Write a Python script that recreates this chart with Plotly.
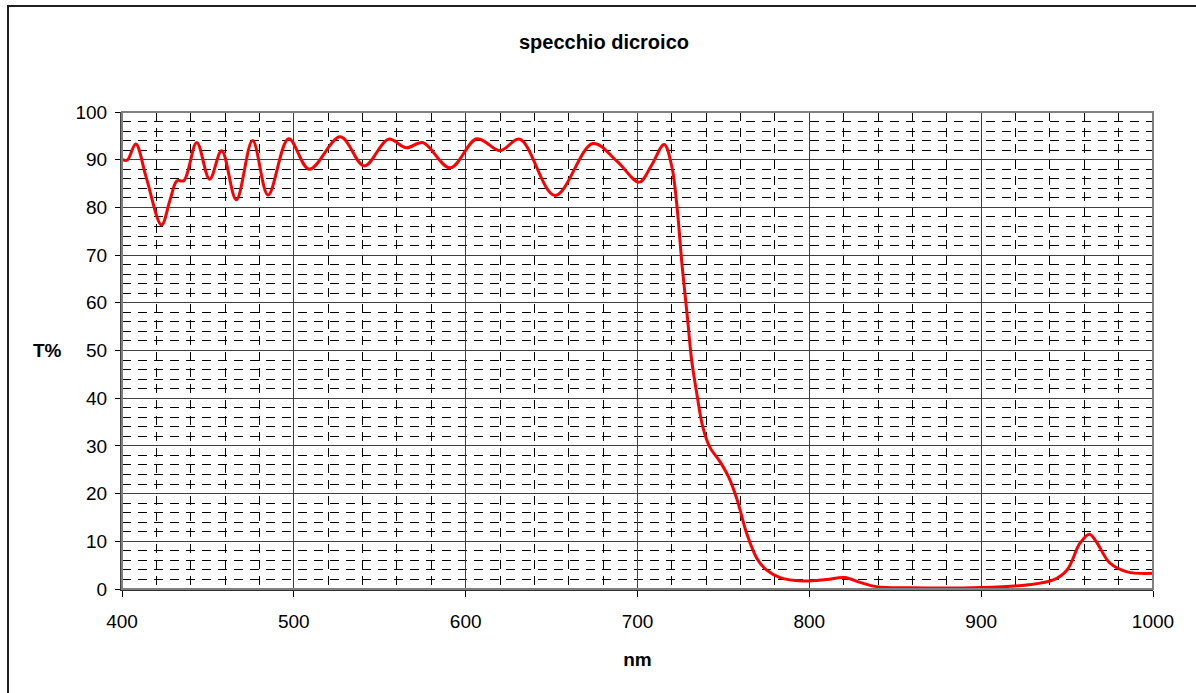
import plotly.graph_objects as go

# Wavelength (nm) and transmittance (%)
nm = [400, 403, 408, 414, 423, 428, 432, 436, 443.5, 451, 458, 466.5, 476, 485,
      497, 509, 527, 541, 555, 565.5, 575, 591, 606.5, 620, 631.5, 652, 674, 688,
      701, 708, 715.5, 720, 723, 726, 729, 731.5, 734.5, 738, 742, 748, 753, 758,
      763.5, 769.5, 775, 783, 796, 810, 820.5, 829.5, 839, 858.5, 900, 926.5, 942,
      950, 957.5, 963, 967, 975, 985, 1000]
T = [90.1, 89.9, 93.3, 86.4, 76.3, 81.6, 85.6, 85.6, 93.6, 85.9, 91.9, 81.6, 94.0, 82.6,
     94.4, 88.0, 94.8, 88.7, 94.3, 92.5, 93.6, 88.3, 94.4, 91.9, 94.3, 82.5, 93.4, 89.7,
     85.3, 88.7, 93.2, 88.5, 80.1, 67.6, 57.1, 48.0, 41.0, 34.0, 29.8, 26.7, 23.5, 18.7,
     11.7, 6.4, 4.0, 2.4, 1.7, 2.0, 2.4, 1.4, 0.5, 0.25, 0.3, 0.85, 1.9,
     4.0, 9.6, 11.5, 9.9, 5.4, 3.6, 3.3]

title_text = "specchio dicroico"
x_title = "nm"
y_title = "T%"

FONT = "Liberation Sans, Arial, sans-serif"

fig = go.Figure()
fig.add_trace(go.Scatter(
    x=nm, y=T, mode="lines",
    line=dict(color="#FF0000", width=3, shape="spline", smoothing=1.0),
    showlegend=False, hoverinfo="x+y",
))

W, H = 1196, 693
L, R, TOP, B = 122, 43, 112, 104

fig.update_layout(
    width=W, height=H,
    margin=dict(l=L, r=R, t=TOP, b=B),
    paper_bgcolor="white", plot_bgcolor="white",
    font=dict(family=FONT, color="black", size=19),
    title=dict(text="<b>" + title_text + "</b>", x=0.505, xref="container",
               y=1 - 42 / H, yanchor="middle", xanchor="center",
               font=dict(family=FONT, size=20, color="black")),
)

fig.update_xaxes(
    range=[400, 1000], tick0=400, dtick=100,
    showgrid=True, gridcolor="#404040", gridwidth=1,
    minor=dict(dtick=20, showgrid=True, gridcolor="#000000", gridwidth=1, griddash="9px,7px"),
    showline=True, linecolor="#303030", linewidth=2,
    ticks="outside", ticklen=6, tickcolor="#000000", tickwidth=1,
    ticklabelstandoff=8,
    tickfont=dict(family=FONT, size=19, color="black"),
    title=dict(text="<b>" + x_title + "</b>", standoff=22,
               font=dict(family=FONT, size=19, color="black")),
    zeroline=False,
)
fig.update_yaxes(
    range=[0, 100], tick0=0, dtick=10,
    showgrid=True, gridcolor="#404040", gridwidth=1,
    minor=dict(dtick=2, showgrid=True, gridcolor="#000000", gridwidth=1, griddash="9px,7px"),
    showline=True, linecolor="#404040", linewidth=2,
    ticks="outside", ticklen=5, tickcolor="#000000", tickwidth=1,
    ticklabelstandoff=4,
    tickfont=dict(family=FONT, size=19, color="black"),
    zeroline=False,
)

# y-axis title placed horizontally to the left, like the reference
fig.add_annotation(
    text="<b>" + y_title + "</b>", xref="paper", yref="paper",
    x=(47 - L) / (W - L - R), y=(589 - 350) / (H - TOP - B),
    showarrow=False, xanchor="center", yanchor="middle",
    font=dict(family=FONT, size=19, color="black"),
)

# Plot-area border (grey, top and right visible)
fig.add_shape(type="rect", xref="paper", yref="paper", x0=0, y0=0, x1=1, y1=1,
              line=dict(color="#808080", width=2), layer="above")
# Outer chart border, extends beyond the window on right/bottom
pw, ph = W - L - R, H - TOP - B
fig.add_shape(type="rect", xref="paper", yref="paper",
              x0=(8 - L) / pw, y0=(589 - 710) / ph, x1=(1220 - L) / pw, y1=(589 - 6) / ph,
              line=dict(color="#202020", width=2), layer="above")

fig.write_html("out.html")
